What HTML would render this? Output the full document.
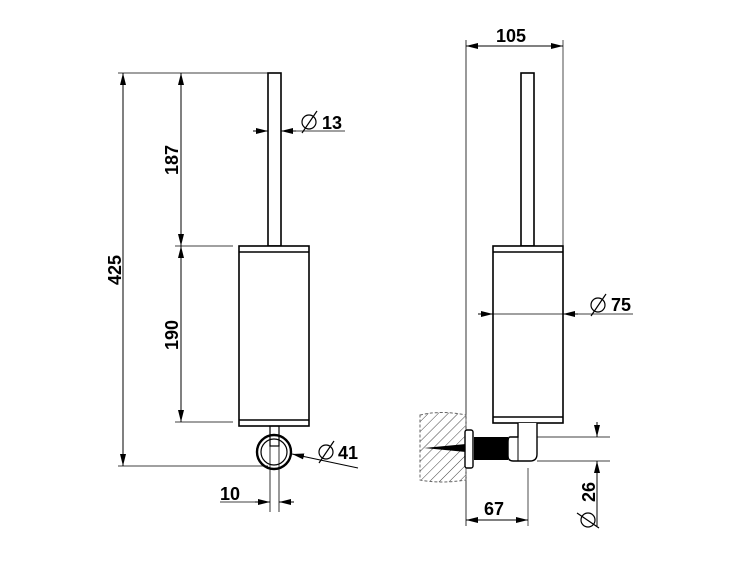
<!DOCTYPE html>
<html><head><style>body{margin:0;background:#fff}svg{display:block}</style></head>
<body>
<svg width="750" height="563" viewBox="0 0 750 563" xmlns="http://www.w3.org/2000/svg" font-family="Liberation Sans, sans-serif" font-weight="bold">
<defs>
<marker id="a" viewBox="0 0 12 6" refX="12" refY="3" markerWidth="12" markerHeight="6" orient="auto-start-reverse" markerUnits="userSpaceOnUse"><path d="M0,0 L12,3 L0,6z" fill="#000"/></marker>
<pattern id="h" width="7" height="7" patternUnits="userSpaceOnUse" patternTransform="rotate(45)"><line x1="0" y1="0" x2="0" y2="7" stroke="#444" stroke-width="1"/></pattern>
</defs>
<g stroke="#000" fill="none" stroke-width="1">
<rect x="268" y="73" width="13" height="173" stroke-width="1.6" fill="#fff"/>
<rect x="239" y="246" width="70" height="180" stroke-width="1.6" fill="#fff"/>
<line x1="239" y1="252" x2="309" y2="252" stroke-width="1.4"/>
<line x1="239" y1="420" x2="309" y2="420" stroke-width="1.4"/>
<rect x="270" y="426" width="9" height="20" stroke-width="1.2"/>
<circle cx="274" cy="452" r="17" stroke-width="2.4"/>
<circle cx="274" cy="452" r="13" stroke-width="1.2"/>
<line x1="270" y1="446" x2="270" y2="512" stroke-width="0.8"/>
<line x1="279" y1="446" x2="279" y2="512" stroke-width="0.8"/>
<line x1="118" y1="73" x2="268" y2="73" stroke-width="0.7"/>
<line x1="118" y1="466" x2="268" y2="466" stroke-width="0.7"/>
<line x1="123" y1="73" x2="123" y2="466" marker-start="url(#a)" marker-end="url(#a)"/>
<line x1="175" y1="246" x2="233" y2="246" stroke-width="0.7"/>
<line x1="175" y1="422" x2="233" y2="422" stroke-width="0.7"/>
<line x1="181" y1="73" x2="181" y2="246" marker-start="url(#a)" marker-end="url(#a)"/>
<line x1="181" y1="246" x2="181" y2="422" marker-start="url(#a)" marker-end="url(#a)"/>
<line x1="253" y1="131" x2="268" y2="131" marker-end="url(#a)"/>
<line x1="296" y1="131" x2="281" y2="131" marker-end="url(#a)"/>
<line x1="281" y1="131" x2="345" y2="131" stroke-width="0.8"/>
<line x1="358" y1="468" x2="292" y2="454" marker-end="url(#a)"/>
<line x1="220" y1="502" x2="270" y2="502" stroke-width="0.8"/>
<line x1="255" y1="502" x2="270" y2="502" marker-end="url(#a)"/>
<line x1="294" y1="502" x2="279" y2="502" marker-end="url(#a)"/>
<line x1="466" y1="40" x2="466" y2="526" stroke-width="0.8"/>
<line x1="563" y1="40" x2="563" y2="246" stroke-width="0.7"/>
<line x1="466" y1="46" x2="563" y2="46" marker-start="url(#a)" marker-end="url(#a)"/>
<rect x="521" y="73" width="13" height="173" stroke-width="1.6" fill="#fff"/>
<rect x="493" y="246" width="70" height="177" stroke-width="1.6" fill="#fff"/>
<line x1="493" y1="252" x2="563" y2="252" stroke-width="1.4"/>
<line x1="493" y1="417" x2="563" y2="417" stroke-width="1.4"/>
<line x1="478" y1="314" x2="493" y2="314" marker-end="url(#a)"/>
<line x1="578" y1="314" x2="563" y2="314" marker-end="url(#a)"/>
<line x1="493" y1="314" x2="633" y2="314" stroke-width="0.8"/>
<path d="M420,415 Q440,410 466,415 L466,480 Q440,484 420,480 Z" fill="url(#h)" stroke="#666" stroke-dasharray="3,2"/>
<path d="M424,448 L466,444 L466,452 Z" fill="#000" stroke="none"/>
<rect x="465" y="430" width="8" height="38" rx="2" fill="#fff" stroke-width="1.4"/>
<rect x="474" y="437" width="34" height="23" fill="#000" stroke="none"/>
<path d="M518,423 L518,437 L510,437 Q508,437 508,442 L508,456 Q508,461 513,461 L530,461 Q537,461 537,454 L537,423" fill="#fff" stroke-width="1.4"/>
<line x1="518" y1="437" x2="518" y2="461" stroke-width="1"/>
<line x1="537" y1="437" x2="610" y2="437" stroke-width="0.7"/>
<line x1="537" y1="461" x2="610" y2="461" stroke-width="0.7"/>
<line x1="597" y1="422" x2="597" y2="437" marker-end="url(#a)"/>
<line x1="597" y1="526" x2="597" y2="461" marker-end="url(#a)"/>
<line x1="528" y1="468" x2="528" y2="526" stroke-width="0.7"/>
<line x1="466" y1="520" x2="528" y2="520" marker-start="url(#a)" marker-end="url(#a)"/>
</g>
<g font-size="18" fill="#000">
<text x="322" y="129">13</text>
<text x="338" y="459">41</text>
<text x="220" y="500">10</text>
<text x="496" y="42">105</text>
<text x="611" y="311">75</text>
<text x="484" y="515">67</text>
<text transform="translate(121,270) rotate(-90)" text-anchor="middle">425</text>
<text transform="translate(178,160) rotate(-90)" text-anchor="middle">187</text>
<text transform="translate(178,335) rotate(-90)" text-anchor="middle">190</text>
<text transform="translate(595,492) rotate(-90)" text-anchor="middle">26</text>
</g>
<g stroke="#000" fill="none" stroke-width="1.2">
<circle cx="309" cy="122" r="7"/><line x1="302" y1="133" x2="317" y2="111"/>
<circle cx="326" cy="452" r="7"/><line x1="319" y1="463" x2="334" y2="441"/>
<circle cx="598" cy="305" r="7"/><line x1="591" y1="316" x2="606" y2="294"/>
<circle cx="588" cy="520" r="7"/><line x1="577" y1="513" x2="599" y2="528"/>
</g>
</svg>
</body></html>
